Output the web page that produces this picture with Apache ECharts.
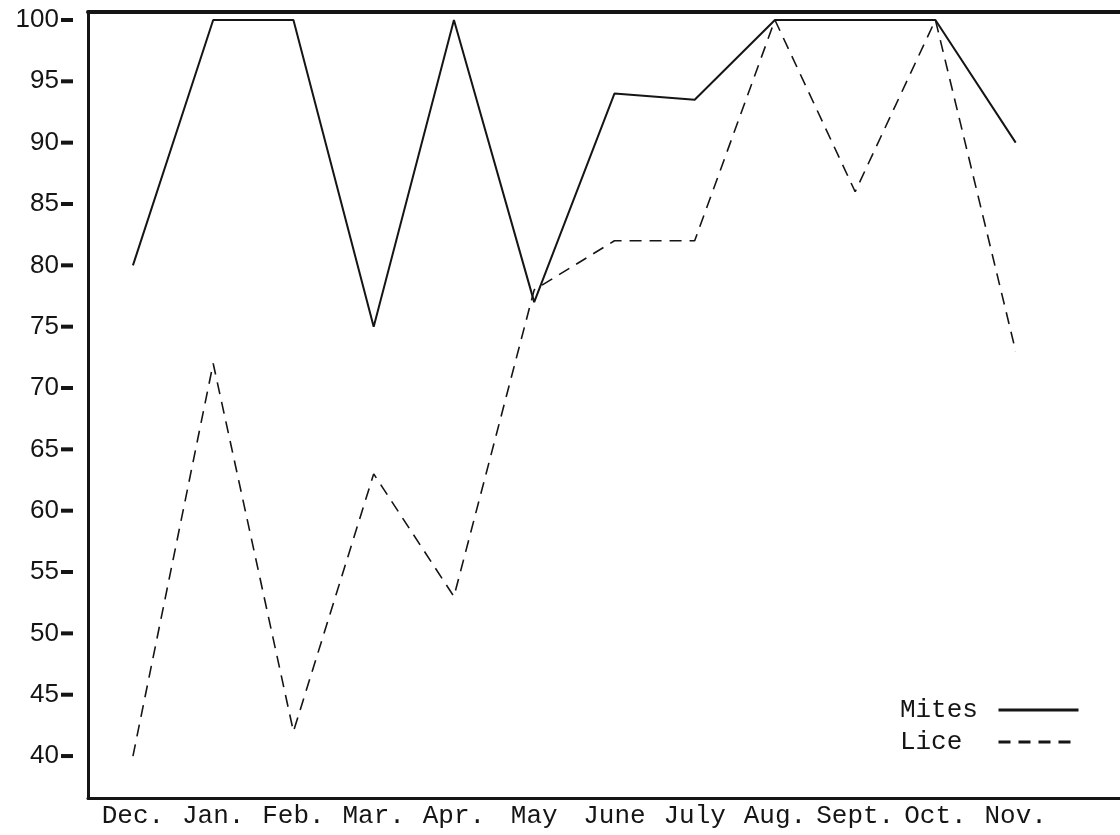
<!DOCTYPE html>
<html>
<head>
<meta charset="utf-8">
<script src="https://cdn.jsdelivr.net/npm/echarts@6/dist/echarts.min.js"></script>
<style>
  html, body { margin: 0; padding: 0; background: #fff; }
  #chart { width: 1120px; height: 835px; }
</style>
</head>
<body>
<div id="chart"></div>
<script>
const months = ['Dec.', 'Jan.', 'Feb.', 'Mar.', 'Apr.', 'May', 'June', 'July', 'Aug.', 'Sept.', 'Oct.', 'Nov.'];
const mites = [80, 100, 100, 75, 100, 77, 94, 93.5, 100, 100, 100, 90];
const lice = [40, 72, 42, 63, 53, 78, 82, 82, 100, 86, 100, 73];
const yTicks = [40, 45, 50, 55, 60, 65, 70, 75, 80, 85, 90, 95, 100];
const seriesNames = ['Mites', 'Lice'];

const monthIdx = months.map((m, i) => i);
const toPairs = arr => arr.map((v, i) => [i, v]);
const ink = '#151515';

const chart = echarts.init(document.getElementById('chart'), null, { renderer: 'canvas' });
chart.setOption({
  animation: false,
  backgroundColor: '#fff',
  grid: { left: 88, right: 0, top: 12, bottom: 37, containLabel: false },
  xAxis: [
    {
      type: 'value', min: -0.56, max: 12.3, position: 'bottom',
      axisLine: { show: true, onZero: false, lineStyle: { color: ink, width: 3 } },
      axisTick: { show: false },
      splitLine: { show: false },
      axisLabel: {
        customValues: monthIdx,
        formatter: v => months[Math.round(v)] || '',
        fontFamily: 'Liberation Mono', fontSize: 26, color: ink, margin: 5
      }
    },
    {
      type: 'value', min: -0.56, max: 12.3, position: 'top',
      axisLine: { show: true, onZero: false, lineStyle: { color: ink, width: 4 } },
      axisTick: { show: false }, axisLabel: { show: false }, splitLine: { show: false }
    }
  ],
  yAxis: {
    type: 'value', min: 36.58, max: 100.65, position: 'left',
    axisLine: { show: true, onZero: false, lineStyle: { color: ink, width: 3 } },
    axisTick: { show: false },
    splitLine: { show: false },
    axisLabel: {
      customValues: yTicks,
      margin: 15,
      formatter: v => '{n|' + v + '}{g| }{d| }',
      rich: {
        n: { fontFamily: 'Liberation Sans', fontSize: 26, color: ink },
        g: { width: 2, height: 4 },
        d: { width: 12, height: 4, backgroundColor: ink, verticalAlign: 'middle' }
      }
    }
  },
  legend: {
    data: seriesNames,
    orient: 'vertical', align: 'right',
    right: 35, top: 692,
    itemWidth: 80, itemHeight: 10, itemGap: 6,
    formatter: name => name.padEnd(6, ' '),
    textStyle: { fontFamily: 'Liberation Mono', fontSize: 26, color: ink },
    lineStyle: { width: 3 },
    itemStyle: { opacity: 0 }
  },
  series: [
    {
      name: seriesNames[0], type: 'line', xAxisIndex: 0, symbol: 'none',
      data: toPairs(mites),
      lineStyle: { color: ink, width: 2, type: 'solid' },
      itemStyle: { color: ink }
    },
    {
      name: seriesNames[1], type: 'line', xAxisIndex: 0, symbol: 'none',
      data: toPairs(lice),
      lineStyle: { color: ink, width: 1.6, type: [12, 8] },
      itemStyle: { color: ink }
    }
  ]
});
</script>
</body>
</html>
